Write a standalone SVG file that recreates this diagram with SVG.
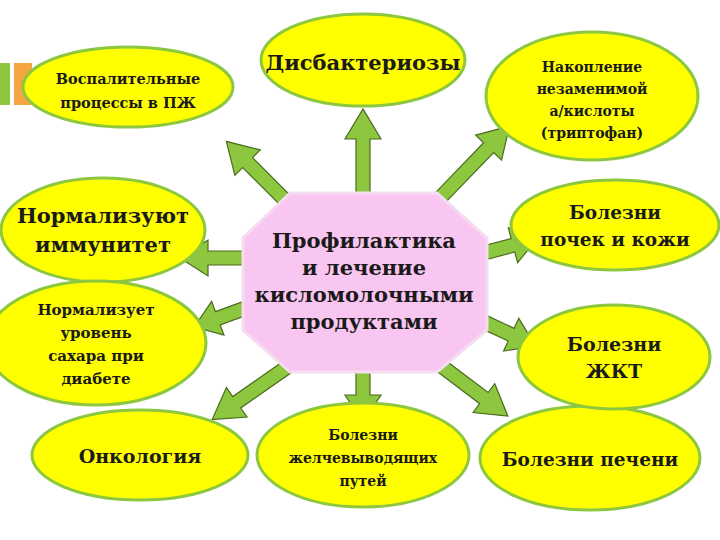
<svg xmlns="http://www.w3.org/2000/svg" width="720" height="540" viewBox="0 0 720 540">
<style>
.e{fill:#FFFF00;stroke:#8DC63F;stroke-width:3}
.t{font-family:"DejaVu Serif",serif;font-weight:bold;fill:#1a1a1a;text-anchor:middle}
.a{fill:#8DC63F;stroke:#4B6B1E;stroke-width:1.2}
</style>
<rect width="720" height="540" fill="#fff"/>
<rect x="0" y="63" width="10" height="42" fill="#8DC63F"/>
<rect x="14" y="63" width="18" height="42" fill="#F7A541"/>
<g id="connectors">
<path class="a" d="M0,-7 L-60,-7 L-60,-18 L-90,0 L-60,18 L-60,7 L0,7 Z" transform="translate(290,205) rotate(45)"/>
<path class="a" d="M0,-7 L-56,-7 L-56,-18 L-86,0 L-56,18 L-56,7 L0,7 Z" transform="translate(363,195) rotate(90)"/>
<path class="a" d="M0,-7 L-70,-7 L-70,-18 L-100,0 L-70,18 L-70,7 L0,7 Z" transform="translate(440,198) rotate(134)"/>
<path class="a" d="M0,-7 L-40,-7 L-40,-18 L-68,0 L-40,18 L-40,7 L0,7 Z" transform="translate(248,258) rotate(0)"/>
<path class="a" d="M0,-7 L-30,-7 L-30,-18 L-55,0 L-30,18 L-30,7 L0,7 Z" transform="translate(484,253) rotate(165)"/>
<path class="a" d="M0,-7 L-30,-7 L-30,-18 L-57,0 L-30,18 L-30,7 L0,7 Z" transform="translate(484,322) rotate(205)"/>
<path class="a" d="M0,-7 L-55,-7 L-55,-18 L-85,0 L-55,18 L-55,7 L0,7 Z" transform="translate(440,365) rotate(217)"/>
<path class="a" d="M0,-7 L-25,-7 L-25,-18 L-52,0 L-25,18 L-25,7 L0,7 Z" transform="translate(363,370) rotate(270)"/>
<path class="a" d="M0,-7 L-65,-7 L-65,-18 L-95,0 L-65,18 L-65,7 L0,7 Z" transform="translate(290,365) rotate(-35)"/>
<path class="a" d="M0,-7 L-30,-7 L-30,-18 L-55,0 L-30,18 L-30,7 L0,7 Z" transform="translate(246,308) rotate(-20)"/>
</g>
<g id="center">
<polygon points="290,193 437,193 487,238 487,330 437,372 290,372 243,330 243,238" fill="#F9C6F2" stroke="#F5DDF0" stroke-width="3"/>
<text class="t" font-size="21"><tspan x="364" y="248">Профилактика</tspan><tspan x="364" y="275">и лечение</tspan><tspan x="364" y="302">кисломолочными</tspan><tspan x="364" y="329">продуктами</tspan></text>
</g>
<g id="n1"><ellipse class="e" cx="128" cy="87" rx="105" ry="40"/><text class="t" font-size="14.5"><tspan x="128" y="84">Воспалительные</tspan><tspan x="128" y="108">процессы в ПЖ</tspan></text></g>
<g id="n2"><ellipse class="e" cx="363" cy="60" rx="102" ry="46"/><text class="t" font-size="21" x="363" y="70">Дисбактериозы</text></g>
<g id="n3"><ellipse class="e" cx="592" cy="96" rx="106" ry="64"/><text class="t" font-size="14"><tspan x="592" y="72">Накопление</tspan><tspan x="592" y="94">незаменимой</tspan><tspan x="592" y="116">а/кислоты</tspan><tspan x="592" y="138">(триптофан)</tspan></text></g>
<g id="n4"><ellipse class="e" cx="103" cy="230" rx="102" ry="52"/><text class="t" font-size="21"><tspan x="103" y="223">Нормализуют</tspan><tspan x="103" y="252">иммунитет</tspan></text></g>
<g id="n5"><ellipse class="e" cx="96" cy="343" rx="110" ry="62"/><text class="t" font-size="15"><tspan x="96" y="315">Нормализует</tspan><tspan x="96" y="338">уровень</tspan><tspan x="96" y="361">сахара при</tspan><tspan x="96" y="384">диабете</tspan></text></g>
<g id="n6"><ellipse class="e" cx="140" cy="455" rx="108" ry="45"/><text class="t" font-size="19" x="140" y="463">Онкология</text></g>
<g id="n7"><ellipse class="e" cx="363" cy="455" rx="106" ry="52"/><text class="t" font-size="14"><tspan x="363" y="440">Болезни</tspan><tspan x="363" y="463">желчевыводящих</tspan><tspan x="363" y="486">путей</tspan></text></g>
<g id="n8"><ellipse class="e" cx="590" cy="458" rx="110" ry="52"/><text class="t" font-size="18.5" x="590" y="466">Болезни печени</text></g>
<g id="n9"><ellipse class="e" cx="615" cy="225" rx="104" ry="45"/><text class="t" font-size="18.5"><tspan x="615" y="219">Болезни</tspan><tspan x="615" y="246">почек и кожи</tspan></text></g>
<g id="n10"><ellipse class="e" cx="614" cy="357" rx="96" ry="52"/><text class="t" font-size="19"><tspan x="614" y="351">Болезни</tspan><tspan x="614" y="378">ЖКТ</tspan></text></g>
</svg>
